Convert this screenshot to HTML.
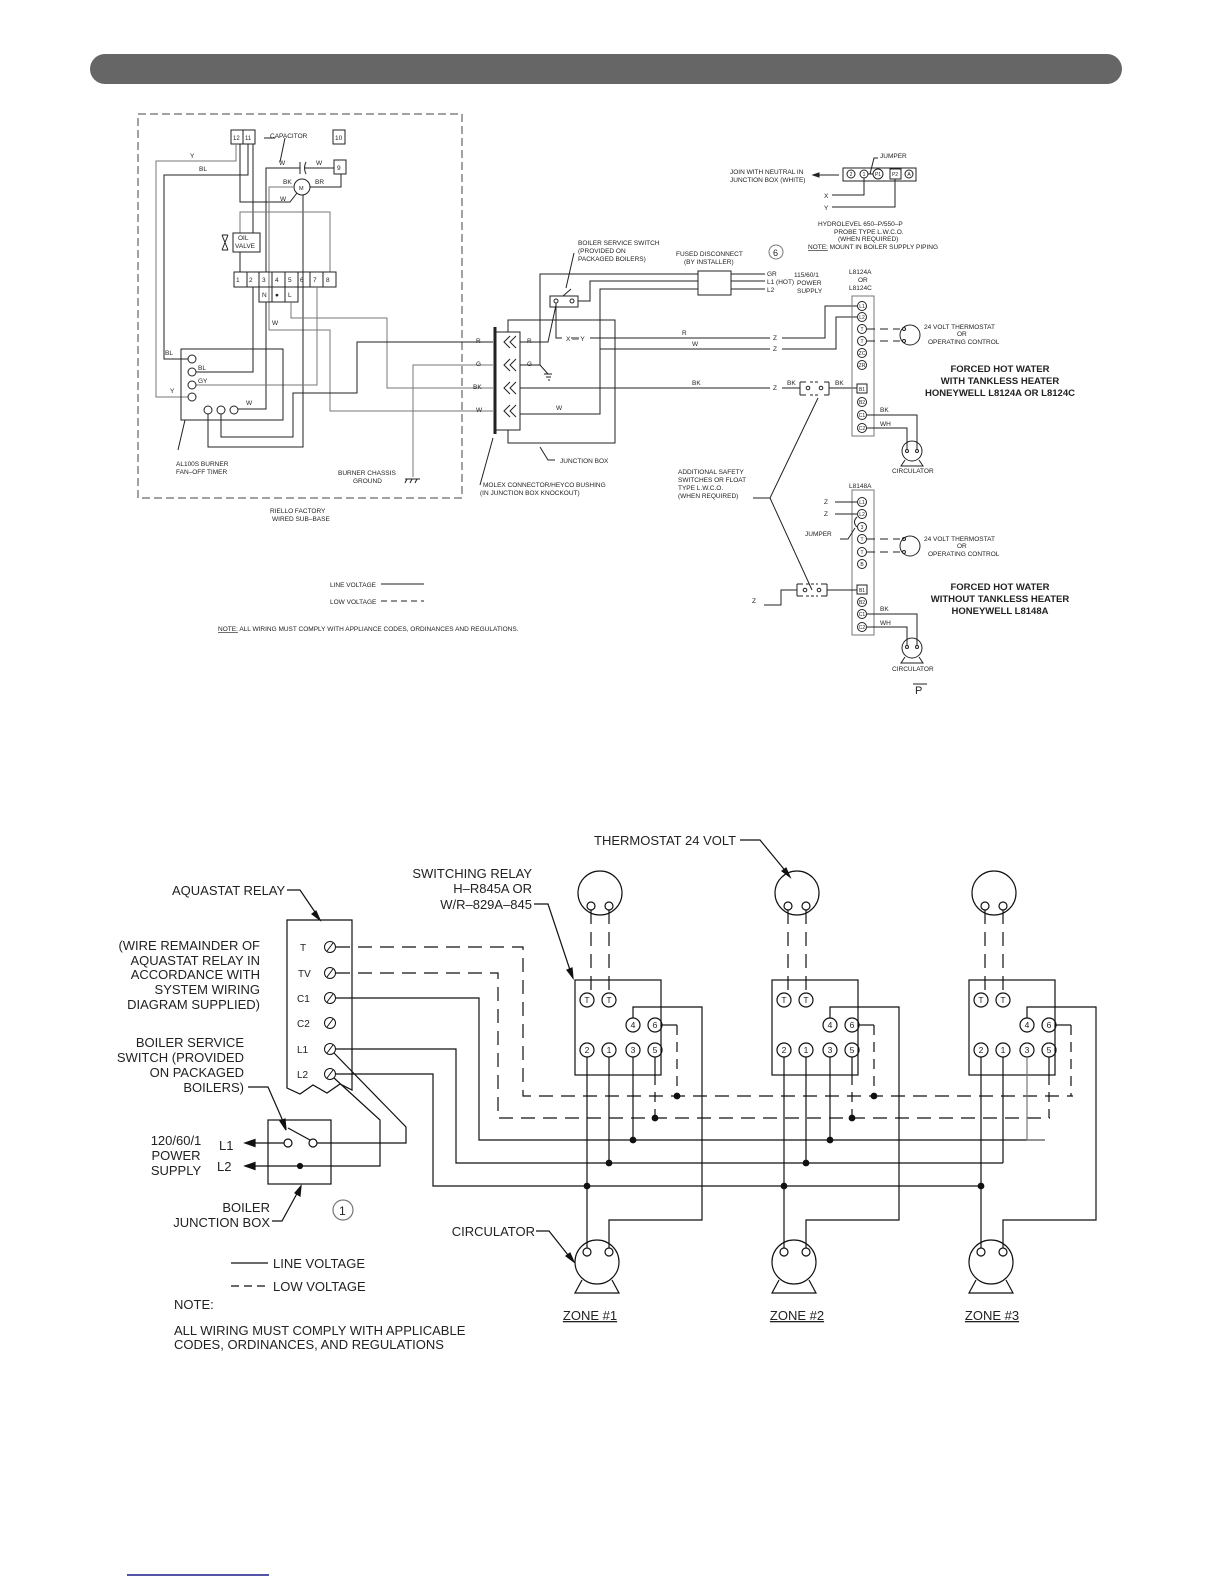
<!DOCTYPE html>
<html><head><meta charset="utf-8"><style>
html,body{margin:0;padding:0;background:#fff}
svg{display:block}
text{font-family:"Liberation Sans",sans-serif;fill:#222}
.s{font-size:6.5px}
.t{font-size:5px}
.l{font-size:13px}
.b{font-size:9.5px;font-weight:bold}
</style></head><body>
<svg width="1224" height="1584" viewBox="0 0 1224 1584" xmlns="http://www.w3.org/2000/svg">
<rect x="90" y="54" width="1032" height="30" rx="15" fill="#666"/>

<g fill="none" stroke="#222" stroke-width="1">
<rect x="138" y="114" width="324" height="384" stroke-dasharray="8 4" stroke="#444"/>
<rect x="231" y="130" width="12" height="14"/><rect x="243" y="130" width="12" height="14"/>
<rect x="333" y="130" width="12" height="14"/><rect x="334" y="160" width="12" height="14"/>
<polyline points="236,144 236,161 156,161 156,397 188,397" stroke="#777"/>
<polyline points="248,144 248,175 164,175 164,359 188,359"/>
<polyline points="240,144 240,202 290,202 297,193"/>
<polyline points="253,144 253,233"/>
<polyline points="266,272 266,168 300,168"/>
<line x1="300" y1="162" x2="300" y2="174"/><path d="M306,162 Q303,168 306,174"/>
<line x1="305" y1="168" x2="334" y2="168"/>
<circle cx="302" cy="187" r="8"/>
<polyline points="310,187 341,187 341,174"/>
<polyline points="294,187 269,187 269,330 330,330 330,411 493,411" stroke="#777"/>
<polyline points="303,195 303,447 208,447 208,414"/>
<polyline points="240,233 240,212 330,212 330,272" stroke="#777"/>
<rect x="233" y="233" width="27" height="19"/>
<path d="M222,235 L228,250 M228,235 L222,250 M222,235 H228 M222,250 H228"/>
<line x1="240" y1="252" x2="240" y2="272"/>
<rect x="234" y="272" width="102" height="15"/>
<path d="M247,272V287M259,272V287M272,272V287M285,272V287M298,272V287M310,272V287M323,272V287"/>
<rect x="259" y="287" width="39" height="15"/><path d="M272,287V302M285,287V302"/>
<polyline points="253,287 253,372 196,372"/>
<polyline points="266,302 266,409 238,409"/>
<polyline points="291,302 291,318 387,318 387,388 493,388" stroke="#777"/>
<polyline points="493,342 357,342 357,393 293,393 293,437 221,437 221,414"/>
<polyline points="317,287 317,385 196,385" stroke="#777"/>
<polyline points="493,365 413,365 413,477" stroke="#777"/>
<path d="M405,479 H420 M407,479 l-2,4 M412,479 l-2,4 M417,479 l-2,4"/>
<rect x="181" y="349" width="102" height="71"/>
<circle cx="192" cy="359" r="4"/><circle cx="192" cy="372" r="4"/><circle cx="192" cy="385" r="4"/><circle cx="192" cy="397" r="4"/>
<circle cx="208" cy="410" r="4"/><circle cx="221" cy="410" r="4"/><circle cx="234" cy="410" r="4"/>
<path d="M185,420 L178,450 M264,138 H275 M285,138 L280,162"/>
<rect x="508" y="320" width="107" height="123"/>
<rect x="495" y="332" width="25" height="98" fill="#fff"/>
<line x1="495" y1="327" x2="495" y2="434" stroke-width="3"/>
<path d="M510,336 l-6,6 6,6 M516,336 l-6,6 6,6 M510,359 l-6,6 6,6 M516,359 l-6,6 6,6 M510,382 l-6,6 6,6 M516,382 l-6,6 6,6 M510,405 l-6,6 6,6 M516,405 l-6,6 6,6"/>
<polyline points="520,342 548,342 556,305"/>
<rect x="550" y="296" width="28" height="11"/><circle cx="556" cy="301" r="2"/><circle cx="572" cy="301" r="2"/>
<path d="M563,296 L571,289 M574,253 L566,288"/>
<polyline points="556,303 556,338 562,338"/><line x1="571" y1="338" x2="579" y2="338"/><line x1="590" y1="338" x2="770" y2="338"/>
<polyline points="520,365 540,365 540,274 698,274"/>
<path d="M540,365 L548,374 M544,374 h8 M546,377 h5 M548,380 h2"/>
<polyline points="578,301 590,301 590,281 698,281"/>
<polyline points="698,289 600,289 600,414 520,414"/>
<line x1="600" y1="349" x2="770" y2="349"/>
<line x1="520" y1="388" x2="770" y2="388"/>
<path d="M540,447 L548,460 H555 M493,438 L480,485"/>
<rect x="698" y="271" width="33" height="24"/>
<path d="M731,274 H765 M731,281 H765 M731,289 H765"/>
<polyline points="782,338 825,338 825,306 857,306"/>
<polyline points="782,349 836,349 836,317 857,317"/>
<path d="M782,388 H800 M829,388 H857"/>
<path d="M800,382 V395 M829,382 V395 M800,382 H806 M824,382 H829 M800,395 H806 M824,395 H829"/>
<path d="M810,382 H820 M810,395 H820" stroke-dasharray="3 2"/>
<circle cx="808" cy="388" r="1.8"/><circle cx="821" cy="388" r="1.8"/>
<rect x="852" y="296" width="22" height="140" stroke="#777"/>
<circle cx="862" cy="306" r="4.5"/><circle cx="862" cy="317" r="4.5"/><circle cx="862" cy="329" r="4.5"/><circle cx="862" cy="341" r="4.5"/><circle cx="862" cy="353" r="4.5"/><circle cx="862" cy="365" r="4.5"/>
<rect x="857" y="384" width="10" height="9"/><circle cx="862" cy="402" r="4.5"/><circle cx="862" cy="415" r="4.5"/><circle cx="862" cy="428" r="4.5"/>
<path d="M867,329 H900 M867,341 H900" stroke-dasharray="8 5"/>
<circle cx="910" cy="335" r="10"/><circle cx="904" cy="329" r="1.5"/><circle cx="904" cy="341" r="1.5"/>
<polyline points="867,415 917,415 917,449"/><polyline points="867,428 907,428 907,449"/>
<circle cx="912" cy="451" r="10"/><circle cx="907" cy="451" r="1.5"/><circle cx="917" cy="451" r="1.5"/>
<path d="M905,460 L901,466 H923 L919,460"/>
<rect x="843" y="168" width="73" height="13"/>
<circle cx="851" cy="174" r="4"/><circle cx="864" cy="174" r="4"/><line x1="868" y1="174" x2="873" y2="174"/><circle cx="878" cy="174" r="5"/><rect x="890" y="169" width="11" height="10"/><circle cx="909" cy="174" r="4"/>
<path d="M870,174 L874,158 H878"/>
<path d="M839,175 H813"/><path d="M813,175 l6,-2 v4z" fill="#222"/>
<polyline points="832,195 864,195 864,178"/><polyline points="832,207 895,207 895,179"/>
<circle cx="776" cy="252" r="7" stroke="#777"/>
<path d="M753,498 H770 L818,398 M770,498 L812,590"/>
<rect x="852" y="490" width="22" height="145" stroke="#777"/>
<circle cx="862" cy="502" r="4.5"/><circle cx="862" cy="514" r="4.5"/><circle cx="862" cy="527" r="4.5"/><circle cx="862" cy="539" r="4.5"/><circle cx="862" cy="552" r="4.5"/><circle cx="862" cy="564" r="4.5"/>
<rect x="857" y="585" width="10" height="9"/><circle cx="862" cy="602" r="4.5"/><circle cx="862" cy="614" r="4.5"/><circle cx="862" cy="627" r="4.5"/>
<path d="M835,502 H857 M835,514 H857 M857,517 Q852,522 857,527 M840,539 H848 L855,528"/>
<path d="M867,539 H900 M867,552 H900" stroke-dasharray="8 5"/>
<circle cx="910" cy="546" r="10"/><circle cx="904" cy="539" r="1.5"/><circle cx="904" cy="552" r="1.5"/>
<path d="M764,605 H781 V590 H797 M827,590 H857"/>
<path d="M797,584 V596 M827,584 V596 M797,584 H803 M821,584 H827 M797,596 H803 M821,596 H827"/>
<path d="M806,584 H818 M806,596 H818" stroke-dasharray="3 2"/>
<circle cx="805" cy="590" r="1.8"/><circle cx="819" cy="590" r="1.8"/>
<polyline points="867,614 917,614 917,645"/><polyline points="867,627 907,627 907,645"/>
<circle cx="912" cy="648" r="10"/><circle cx="907" cy="647" r="1.5"/><circle cx="917" cy="647" r="1.5"/>
<path d="M905,657 L901,663 H923 L919,657"/>
<path d="M913,684 H927"/>
<path d="M381,584 H424"/><path d="M381,601 H424" stroke-dasharray="6 4"/>
</g>
<g class="t" text-anchor="middle">
<text x="862" y="308">L1</text><text x="862" y="319">L2</text><text x="862" y="331">T</text><text x="862" y="343">T</text><text x="862" y="355">ZC</text><text x="862" y="367">ZR</text><text x="862" y="391">B1</text><text x="862" y="404">B2</text><text x="862" y="417">C1</text><text x="862" y="430">C2</text>
<text x="862" y="504">L1</text><text x="862" y="516">L2</text><text x="862" y="529">3</text><text x="862" y="541">T</text><text x="862" y="554">T</text><text x="862" y="566">B</text><text x="862" y="592">B1</text><text x="862" y="604">B2</text><text x="862" y="616">C1</text><text x="862" y="629">C2</text>
<text x="851" y="176">2</text><text x="864" y="176">1</text><text x="878" y="176">P1</text><text x="895" y="176">P2</text><text x="909" y="176">A</text>
</g>
<g class="s">
<text x="233" y="140" font-size="6">12</text><text x="245" y="140" font-size="6">11</text><text x="335" y="140">10</text><text x="337" y="170">9</text>
<text x="270" y="138">CAPACITOR</text>
<text x="190" y="158">Y</text><text x="199" y="171">BL</text><text x="279" y="165">W</text><text x="316" y="165">W</text>
<text x="283" y="184">BK</text><text x="315" y="184">BR</text><text x="280" y="201">W</text><text x="299" y="190" font-size="5.5">M</text>
<text x="238" y="240">OIL</text><text x="235" y="248">VALVE</text>
<text x="236" y="282">1</text><text x="249" y="282">2</text><text x="262" y="282">3</text><text x="275" y="282">4</text><text x="288" y="282">5</text><text x="300" y="282">6</text><text x="313" y="282">7</text><text x="326" y="282">8</text>
<text x="262" y="297">N</text><text x="275" y="297">●</text><text x="288" y="297">L</text>
<text x="272" y="325">W</text><text x="165" y="355">BL</text><text x="198" y="370">BL</text><text x="198" y="383">GY</text><text x="170" y="393">Y</text><text x="246" y="405">W</text>
<text x="176" y="466">AL100S BURNER</text><text x="176" y="474">FAN–OFF TIMER</text>
<text x="338" y="475">BURNER CHASSIS</text><text x="353" y="483">GROUND</text>
<text x="270" y="513">RIELLO FACTORY</text><text x="272" y="521">WIRED SUB–BASE</text>
<text x="476" y="343">R</text><text x="476" y="366">G</text><text x="473" y="389">BK</text><text x="476" y="412">W</text>
<text x="527" y="343">R</text><text x="527" y="366">G</text><text x="556" y="410">W</text><text x="566" y="341">X — Y</text><text x="682" y="335">R</text><text x="692" y="346">W</text><text x="692" y="385">BK</text>
<text x="773" y="340">Z</text><text x="773" y="351">Z</text><text x="773" y="390">Z</text><text x="787" y="385">BK</text><text x="835" y="385">BK</text>
<text x="578" y="245">BOILER SERVICE SWITCH</text><text x="578" y="253">(PROVIDED ON</text><text x="578" y="261">PACKAGED BOILERS)</text>
<text x="676" y="256">FUSED DISCONNECT</text><text x="684" y="264">(BY INSTALLER)</text>
<text x="773" y="256" font-size="9" fill="#777">6</text>
<text x="767" y="276">GR</text><text x="767" y="284">L1 (HOT)</text><text x="767" y="292">L2</text>
<text x="794" y="277">115/60/1</text><text x="797" y="285">POWER</text><text x="797" y="293">SUPPLY</text>
<text x="849" y="274">L8124A</text><text x="858" y="282">OR</text><text x="849" y="290">L8124C</text>
<text x="560" y="463">JUNCTION BOX</text>
<text x="483" y="487">MOLEX CONNECTOR/HEYCO BUSHING</text><text x="480" y="495">(IN JUNCTION BOX KNOCKOUT)</text>
<text x="678" y="474">ADDITIONAL SAFETY</text><text x="678" y="482">SWITCHES OR FLOAT</text><text x="678" y="490">TYPE L.W.C.O.</text><text x="678" y="498">(WHEN REQUIRED)</text>
<text x="880" y="158">JUMPER</text><text x="730" y="174">JOIN WITH NEUTRAL IN</text><text x="730" y="182">JUNCTION BOX (WHITE)</text>
<text x="824" y="198">X</text><text x="824" y="210">Y</text>
<text x="818" y="226">HYDROLEVEL 650–P/550–P</text><text x="834" y="234">PROBE TYPE L.W.C.O.</text><text x="838" y="241">(WHEN REQUIRED)</text><text x="808" y="249"><tspan text-decoration="underline">NOTE:</tspan> MOUNT IN BOILER SUPPLY PIPING</text>
<text x="924" y="329">24 VOLT THERMOSTAT</text><text x="957" y="336">OR</text><text x="928" y="344">OPERATING CONTROL</text>
<text x="880" y="412">BK</text><text x="880" y="426">WH</text><text x="892" y="473">CIRCULATOR</text>
<text x="849" y="488">L8148A</text><text x="824" y="504">Z</text><text x="824" y="516">Z</text><text x="805" y="536">JUMPER</text>
<text x="924" y="541">24 VOLT THERMOSTAT</text><text x="957" y="548">OR</text><text x="928" y="556">OPERATING CONTROL</text>
<text x="752" y="603">Z</text><text x="880" y="611">BK</text><text x="880" y="625">WH</text><text x="892" y="671">CIRCULATOR</text>
<text x="330" y="587">LINE VOLTAGE</text><text x="330" y="604">LOW VOLTAGE</text>
<text x="218" y="631"><tspan text-decoration="underline">NOTE:</tspan> ALL WIRING MUST COMPLY WITH APPLIANCE CODES, ORDINANCES AND REGULATIONS.</text>
</g>
<text x="915" y="694" font-size="11" font-family="Liberation Serif">P</text>
<g class="b" text-anchor="middle">
<text x="1000" y="372">FORCED HOT WATER</text><text x="1000" y="384">WITH TANKLESS HEATER</text><text x="1000" y="396">HONEYWELL L8124A OR L8124C</text>
<text x="1000" y="590">FORCED HOT WATER</text><text x="1000" y="602">WITHOUT TANKLESS HEATER</text><text x="1000" y="614">HONEYWELL L8148A</text>
</g>

<g fill="none" stroke="#111" stroke-width="1.2">
<path d="M287,920 H352 V1090 L340,1084 L327,1093 L313,1085 L300,1094 L287,1088 Z"/>
<g stroke-width="1">
<circle cx="330" cy="947" r="5.5"/><circle cx="330" cy="973" r="5.5"/><circle cx="330" cy="998" r="5.5"/><circle cx="330" cy="1023" r="5.5"/><circle cx="330" cy="1049" r="5.5"/><circle cx="330" cy="1074" r="5.5"/>
<path d="M327,951 l6,-8 M327,977 l6,-8 M327,1002 l6,-8 M327,1027 l6,-8 M327,1053 l6,-8 M327,1078 l6,-8"/>
</g>
<polyline points="336,947 523,947 523,1096 1073,1096" stroke-dasharray="14 8"/>
<polyline points="336,973 498,973 498,1118 1050,1118" stroke-dasharray="14 8"/>
<polyline points="336,998 479,998 479,1140 1045,1140"/>
<polyline points="336,1049 456,1049 456,1163 1003,1163"/>
<polyline points="336,1074 433,1074 433,1186 981,1186"/>
<rect x="268" y="1120" width="63" height="64"/>
<circle cx="288" cy="1143" r="4"/><circle cx="313" cy="1143" r="4"/><circle cx="300" cy="1166" r="2.5" fill="#111"/>
<path d="M288,1128 L310,1140"/>
<path d="M284,1143 H247 M298,1166 H247"/>
<path d="M245,1143 l10,-3.5 v7z M245,1166 l10,-3.5 v7z" fill="#111"/>
<polyline points="317,1143 406,1143 406,1127 334,1053"/>
<polyline points="300,1166 380,1166 380,1120 334,1078"/>
<circle cx="343" cy="1210" r="10" stroke="#777"/>
<path d="M248,1087 H268 L286,1128"/><path d="M286,1130 l-6,-9 5,-2z" fill="#111"/>
<path d="M272,1221 H282 L300,1188"/><path d="M301,1186 l-1,10 -5,-3z" fill="#111"/>
<path d="M287,890 H300 L319,918"/><path d="M320,920 l-8,-6 4,-3z" fill="#111"/>
<path d="M534,904 H548 L572,976"/><path d="M573,978 l-6,-8 5,-2z" fill="#111"/>
<path d="M740,840 H760 L788,874"/><path d="M790,877 l-8,-6 4,-3z" fill="#111"/>
<path d="M536,1231 H549 L572,1260"/><path d="M574,1262 l-8,-6 4,-3z" fill="#111"/>
<path d="M231,1263 H268"/><path d="M231,1286 H268" stroke-dasharray="8 5"/>

<g id="z">
<circle cx="600" cy="893" r="22"/><circle cx="591" cy="906" r="4"/><circle cx="609" cy="906" r="4"/>
<path d="M591,910 V993 M609,910 V993" stroke-dasharray="14 8"/>
<rect x="575" y="980" width="86" height="95"/>
<circle cx="587" cy="1000" r="7"/><circle cx="609" cy="1000" r="7"/>
<circle cx="633" cy="1025" r="7"/><circle cx="655" cy="1025" r="7"/>
<circle cx="587" cy="1050" r="7"/><circle cx="609" cy="1050" r="7"/><circle cx="633" cy="1050" r="7"/><circle cx="655" cy="1050" r="7"/>
<path d="M587,1057 V1248 M609,1057 V1163 M633,1057 V1140 M655,1057 V1075"/>
<path d="M655,1075 V1118 M677,1025 V1096" stroke-dasharray="10 7"/>
<path d="M662,1025 H677"/>
<polyline points="633,1018 633,1007 702,1007 702,1220 609,1220 609,1248"/>
<circle cx="597" cy="1262" r="22"/><circle cx="587" cy="1252" r="4"/><circle cx="609" cy="1252" r="4"/>
<path d="M582,1280 L575,1293 H619 L612,1280"/>
<circle cx="587" cy="1186" r="2.8" fill="#111"/><circle cx="609" cy="1163" r="2.8" fill="#111"/><circle cx="633" cy="1140" r="2.8" fill="#111"/><circle cx="655" cy="1118" r="2.8" fill="#111"/><circle cx="677" cy="1096" r="2.8" fill="#111"/>
</g>
<use href="#z" x="197"/>
<g transform="translate(394,0)">
<circle cx="600" cy="893" r="22"/><circle cx="591" cy="906" r="4"/><circle cx="609" cy="906" r="4"/>
<path d="M591,910 V993 M609,910 V993" stroke-dasharray="14 8"/>
<rect x="575" y="980" width="86" height="95"/>
<circle cx="587" cy="1000" r="7"/><circle cx="609" cy="1000" r="7"/>
<circle cx="633" cy="1025" r="7"/><circle cx="655" cy="1025" r="7"/>
<circle cx="587" cy="1050" r="7"/><circle cx="609" cy="1050" r="7"/><circle cx="633" cy="1050" r="7"/><circle cx="655" cy="1050" r="7"/>
<path d="M587,1057 V1248 M609,1057 V1163 M655,1057 V1075"/>
<polyline points="633,1057 633,1140 651,1140" stroke="#777"/>
<path d="M655,1075 V1118 M677,1025 V1096" stroke-dasharray="10 7"/>
<path d="M662,1025 H677"/>
<polyline points="633,1018 633,1007 702,1007 702,1220 609,1220 609,1248"/>
<circle cx="597" cy="1262" r="22"/><circle cx="587" cy="1252" r="4"/><circle cx="609" cy="1252" r="4"/>
<path d="M582,1280 L575,1293 H619 L612,1280"/>
<circle cx="587" cy="1186" r="2.8" fill="#111"/>
</g>
</g>
<g class="l" font-size="13">
<text x="594" y="845">THERMOSTAT 24 VOLT</text>
<text x="172" y="895">AQUASTAT RELAY</text>
<g text-anchor="end">
<text x="532" y="878">SWITCHING RELAY</text><text x="532" y="893">H–R845A OR</text><text x="532" y="909">W/R–829A–845</text>
<text x="260" y="950">(WIRE REMAINDER OF</text><text x="260" y="965">AQUASTAT RELAY IN</text><text x="260" y="979">ACCORDANCE WITH</text><text x="260" y="994">SYSTEM WIRING</text><text x="260" y="1009">DIAGRAM SUPPLIED)</text>
<text x="244" y="1047">BOILER SERVICE</text><text x="244" y="1062">SWITCH (PROVIDED</text><text x="244" y="1077">ON PACKAGED</text><text x="244" y="1092">BOILERS)</text>
<text x="270" y="1212">BOILER</text><text x="270" y="1227">JUNCTION BOX</text>
<text x="535" y="1236">CIRCULATOR</text>
</g>
<text x="300" y="951" font-size="10">T</text><text x="298" y="977" font-size="10">TV</text><text x="297" y="1002" font-size="10">C1</text><text x="297" y="1027" font-size="10">C2</text><text x="297" y="1053" font-size="10">L1</text><text x="297" y="1078" font-size="10">L2</text>
<text x="176" y="1145" text-anchor="middle">120/60/1</text><text x="176" y="1160" text-anchor="middle">POWER</text><text x="176" y="1175" text-anchor="middle">SUPPLY</text>
<text x="219" y="1150">L1</text><text x="217" y="1171">L2</text>
<text x="339" y="1215" font-size="12" fill="#777">1</text>
<text x="273" y="1268">LINE VOLTAGE</text><text x="273" y="1291">LOW VOLTAGE</text>
<text x="174" y="1309">NOTE:</text><text x="174" y="1335">ALL WIRING MUST COMPLY WITH APPLICABLE</text><text x="174" y="1349">CODES, ORDINANCES, AND REGULATIONS</text>
<text x="590" y="1320" text-anchor="middle" text-decoration="underline">ZONE #1</text>
<text x="797" y="1320" text-anchor="middle" text-decoration="underline">ZONE #2</text>
<text x="992" y="1320" text-anchor="middle" text-decoration="underline">ZONE #3</text>
</g>
<g font-size="8.5" text-anchor="middle">
<text x="587" y="1003">T</text><text x="609" y="1003">T</text><text x="633" y="1028">4</text><text x="655" y="1028">6</text><text x="587" y="1053">2</text><text x="609" y="1053">1</text><text x="633" y="1053">3</text><text x="655" y="1053">5</text>
<text x="784" y="1003">T</text><text x="806" y="1003">T</text><text x="830" y="1028">4</text><text x="852" y="1028">6</text><text x="784" y="1053">2</text><text x="806" y="1053">1</text><text x="830" y="1053">3</text><text x="852" y="1053">5</text>
<text x="981" y="1003">T</text><text x="1003" y="1003">T</text><text x="1027" y="1028">4</text><text x="1049" y="1028">6</text><text x="981" y="1053">2</text><text x="1003" y="1053">1</text><text x="1027" y="1053">3</text><text x="1049" y="1053">5</text>
</g>
<line x1="127" y1="1575" x2="269" y2="1575" stroke="#1a1a8a" stroke-width="1.5"/>
</svg>
</body></html>
